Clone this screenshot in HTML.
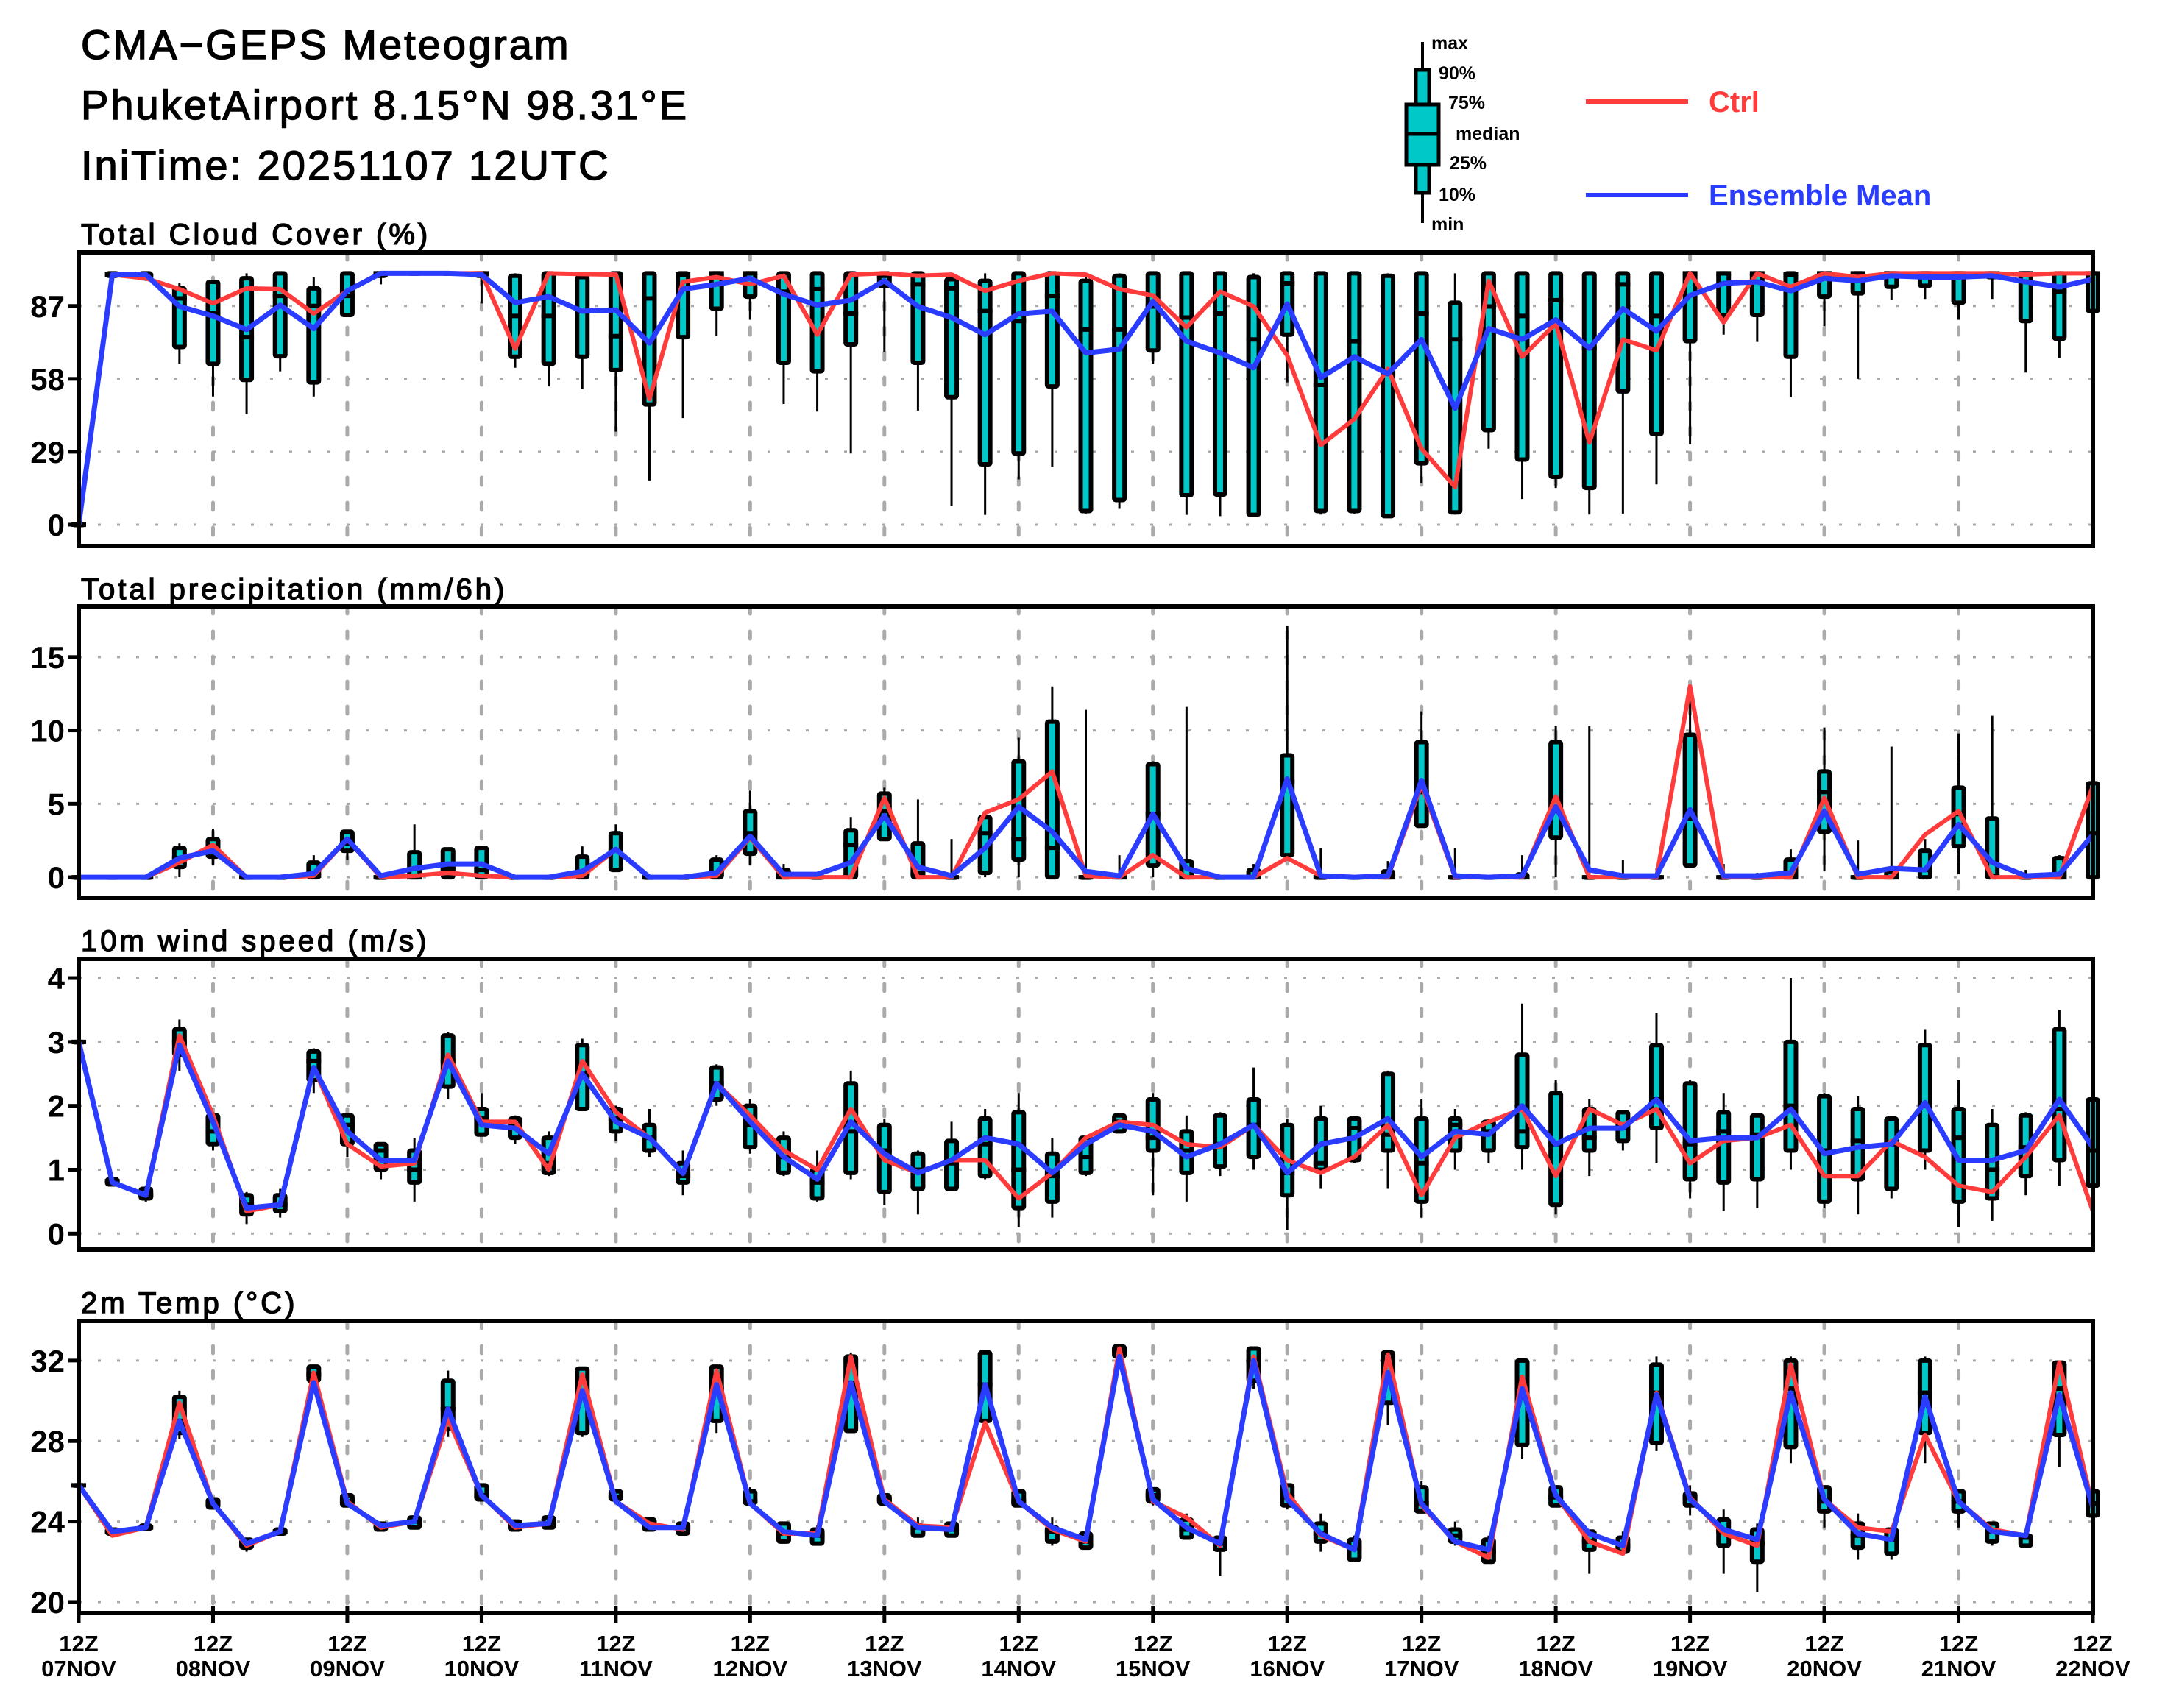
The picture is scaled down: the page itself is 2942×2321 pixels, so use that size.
<!DOCTYPE html>
<html><head><meta charset="utf-8">
<style>
html,body{margin:0;padding:0;background:#fff;}
svg{display:block;}
text{font-family:"Liberation Sans",sans-serif;}
</style></head>
<body>
<svg id="chart" width="2942" height="2321" viewBox="0 0 2942 2321" xmlns="http://www.w3.org/2000/svg">
<rect x="0" y="0" width="2942" height="2321" fill="#fff"/>
<g font-size="56" fill="#000" stroke="#000" stroke-width="1.4" letter-spacing="3">
<text x="110" y="80">CMA−GEPS Meteogram</text>
<text x="110" y="162">PhuketAirport 8.15°N 98.31°E</text>
<text x="110" y="244">IniTime: 20251107 12UTC</text>
</g>
<g>
<g>
<line x1="1933" y1="57" x2="1933" y2="303" stroke="#000" stroke-width="4"/>
<rect x="1924" y="95" width="18" height="167" fill="#00c8c8" stroke="#000" stroke-width="5"/>
<rect x="1911" y="142" width="44" height="82" fill="#00c8c8" stroke="#000" stroke-width="5"/>
<line x1="1911" y1="182" x2="1955" y2="182" stroke="#000" stroke-width="5"/>
<g font-size="25" font-weight="bold" fill="#000">
<text x="1945" y="67">max</text>
<text x="1955" y="108">90%</text>
<text x="1968" y="148">75%</text>
<text x="1978" y="190">median</text>
<text x="1970" y="230">25%</text>
<text x="1955" y="273">10%</text>
<text x="1945" y="313">min</text>
</g>
</g>
<g>
<line x1="2155" y1="138" x2="2294" y2="138" stroke="#ff3b3b" stroke-width="6"/>
<text x="2322" y="152" font-size="40" font-weight="bold" fill="#ff3b3b">Ctrl</text>
</g>
<g>
<line x1="2155" y1="265" x2="2294" y2="265" stroke="#2a3cff" stroke-width="6"/>
<text x="2322" y="279" font-size="40" font-weight="bold" fill="#2a3cff">Ensemble Mean</text>
</g>
</g>
<g id="panels"></g>
</svg>
<script>
// ---------- data ----------
const dayLabels = ["07NOV","08NOV","09NOV","10NOV","11NOV","12NOV","13NOV","14NOV","15NOV","16NOV","17NOV","18NOV","19NOV","20NOV","21NOV","22NOV"];

const cloudTicks = [0,29,58,87];
const cloudCtrl = [0,99.5,98,93.7,88,94,93.7,84,93,100,100,100,100,70,100,99.7,99.5,50,96.6,98.5,95.6,99,75.6,99.5,100,99,99.5,93,97,100,99.5,93.7,91.2,78.5,92.7,86.8,67.3,31.7,42,62,30.2,15,97,66.8,80,32.7,73.7,69.3,100,80.5,100,94.6,100,98.5,100,100,100,100,99.5,100,100];
const cloudMean = [0,99.5,99.5,86.8,83,77.6,87.3,78,93,100,100,100,99.5,88.3,90.7,84.9,85.4,72.2,93.7,95.6,98,91.7,87.3,89.3,97,86.8,82.4,75.6,83.9,84.9,68.3,69.8,88.8,73,68.3,62.4,87.8,58.5,66.8,60,73.7,46.3,78,73.7,81.5,70.2,85.9,77,91.2,96,96.6,93,98,97,99,98.5,98.5,99,96.6,94.6,97.6];
const cloudMin = [0,98,97,64,51,44,61,51,83,95.6,100,100,88,62.4,55,54,37,17.6,42.4,75,81.5,48,45,28.3,68.8,45.4,7.3,3.9,18,23,4.4,6.3,64,3.9,3.4,3.9,56.6,4,4.4,3.4,16.6,4,30.2,10.2,14.6,4,4.4,16,32,75.6,72.7,50.7,79,58,89.3,89.8,81.5,89.8,60.5,66.3,85];
const cloudQ1 = [0,99,98,70.7,64,57.6,67,56.6,83.4,99,100,100,99,66.8,64,66.8,61.5,47.8,74.6,85.9,90.7,64.4,61,71.7,95,64.4,50.7,24,28.3,55,5.4,9.8,69.3,11.7,12,3.9,75.6,5.4,5.4,3.4,24.4,4.9,37.6,25.9,19,14.6,53,36,73,83.4,83.4,66.8,90.7,92,94.6,95,88.3,98.5,81,74,85];
const cloudMed = [0,99.5,99,90,84,74.6,91,87,91,100,100,100,100,83,83,85,75,90,99.5,100,100,92.7,93.7,84,99,95.6,94,85,81,91,77.6,77.6,86.8,82.4,84,73.7,96,55.6,73,60,84,73.7,86.8,83,89.3,70.2,95.6,83,100,100,100,99.5,100,100,100,100,100,100,100,92.7,100];
const cloudQ3 = [0,100,100,94,96.6,98,100,94,100,100,100,100,100,99,100,98.5,100,100,100,100,100,100,100,100,100,100,97.6,97,100,100,97,99,100,100,100,98.5,100,100,100,99,100,88.3,100,100,100,100,100,100,100,100,100,100,100,100,100,100,100,100,100,100,100];
const cloudMax = [0,100,100,96,96.6,100,100,98.5,100,100,100,100,100,100,100,100,100,100,100,100,100,100,100,100,100,100,100,100,100,100,100,100,100,100,100,100,100,100,100,100,100,100,100,100,100,100,100,100,100,100,100,100,100,100,100,100,100,100,100,100,100];

const precTicks = [0,5,10,15];
const precCtrl = [0,0,0,1.0,2.2,0,0,0.1,2.6,0,0.1,0.3,0.1,0,0,0.1,1.9,0,0,0.1,2.7,0,0,0,5.4,0,0,4.4,5.3,7.2,0.1,0,1.5,0,0,0,1.3,0.1,0,0,6.3,0,0,0,5.5,0,0,0,13.0,0,0,0,5.4,0,0,2.9,4.5,0,0,0,6.2];
const precMean = [0,0,0,1.3,1.8,0,0,0.25,2.6,0.1,0.6,0.9,0.9,0,0,0.4,1.9,0,0,0.3,2.8,0.2,0.2,1.0,4.2,0.7,0.1,2.0,4.8,3.1,0.4,0.1,4.3,0.6,0,0,6.7,0.1,0,0.1,6.6,0.1,0,0.1,4.8,0.5,0.1,0.1,4.6,0.1,0.1,0.3,4.5,0.2,0.6,0.5,3.6,1.0,0.1,0.2,2.9];
const precMin = [0,0,0,0,0.8,0,0,0,1.2,0,0,0,0,0,0,0,0.5,0,0,0,0.8,0,0,0,2.6,0,0,0,0,0,0,0,0,0,0,0,1.4,0,0,0,3.5,0,0,0,0,0,0,0,0.8,0,0,0,0.4,0,0,0,0.2,0,0,0,0];
const precQ1 = [0,0,0,0.7,1.4,0,0,0,1.8,0,0,0,0,0,0,0,0.5,0,0,0,1.6,0,0,0,2.6,0,0,0.3,1.2,0,0,0,0.8,0,0,0,1.5,0,0,0,3.5,0,0,0,2.7,0,0,0,0.8,0,0,0,3.1,0,0,0,2.1,0,0,0,0];
const precMed = [0,0,0,1.3,1.8,0,0,0.1,2.3,0,0,0.6,0.5,0,0,0.3,1.8,0,0,0.2,3.0,0,0,2.2,4.5,0.3,0,3.0,2.6,2.0,0,0,4.3,0,0,0,6.5,0,0,0,5.8,0,0,0,4.5,0,0,0,4.0,0,0,0,5.8,0,0,0.5,4.3,0.1,0,0,3.0];
const precQ3 = [0,0,0,2.0,2.6,0,0,1.0,3.1,0,1.7,1.9,2.0,0,0,1.4,3.0,0,0,1.2,4.5,0.5,0,3.2,5.7,2.3,0,4.1,7.9,10.6,0,0.1,7.7,1.1,0,0.5,8.3,0,0,0.4,9.2,0,0,0.2,9.2,0,0,0,9.7,0,0,1.2,7.2,0,0.4,1.8,6.1,4.0,0,1.3,6.4];
const precMax = [0,0,0,2.3,3.3,0,0,1.5,3.1,0,3.6,1.9,2.0,0,0,2.1,3.6,0,0,1.5,5.9,0.9,0,4.1,6.1,5.3,2.6,4.1,9.5,13.0,11.4,1.5,7.9,11.6,0,0.9,17.1,2.0,0,1.1,11.3,2.0,0,1.5,10.3,10.3,1.2,0.6,12.2,0.9,0.3,1.9,10.2,2.5,8.9,2.6,9.8,11.0,0.5,1.5,6.4];

const windTicks = [0,1,2,3,4];
const windCtrl = [3.0,0.8,0.6,3.1,1.85,0.35,0.45,2.6,1.4,1.05,1.1,2.8,1.75,1.75,1.0,2.7,1.9,1.5,0.95,2.35,1.85,1.3,1.0,1.95,1.15,0.95,1.15,1.15,0.55,0.95,1.5,1.75,1.7,1.4,1.35,1.7,1.15,0.95,1.2,1.7,0.6,1.5,1.75,1.95,0.9,1.95,1.7,1.95,1.1,1.45,1.5,1.7,0.9,0.9,1.45,1.2,0.75,0.65,1.2,1.85,0.35];
const windMean = [3.0,0.8,0.6,2.95,1.75,0.4,0.45,2.6,1.6,1.15,1.15,2.7,1.7,1.65,1.25,2.5,1.75,1.5,0.94,2.35,1.75,1.2,0.85,1.75,1.25,0.95,1.15,1.5,1.4,0.95,1.4,1.7,1.6,1.2,1.4,1.7,0.95,1.4,1.5,1.8,1.2,1.6,1.55,2.0,1.4,1.65,1.65,2.1,1.45,1.5,1.5,1.95,1.25,1.35,1.4,2.05,1.15,1.15,1.3,2.1,1.35];
const windMin = [3.0,0.75,0.5,2.55,1.3,0.15,0.25,2.2,1.2,0.85,0.5,2.1,1.55,1.4,0.9,1.95,1.45,1.2,0.6,2.0,1.25,0.9,0.5,0.85,0.45,0.3,0.7,0.85,0.1,0.25,0.9,1.6,0.6,0.5,0.9,1.0,0.05,0.7,1.1,0.7,0.25,1.0,1.1,1.0,0.3,0.9,1.3,1.1,0.55,0.35,0.4,1.0,0.4,0.3,0.55,1.0,0.1,0.2,0.6,0.75,0.3];
const windQ1 = [3.0,0.77,0.55,2.8,1.4,0.3,0.35,2.4,1.4,1.0,0.8,2.3,1.55,1.5,0.95,1.95,1.6,1.3,0.8,2.1,1.35,0.95,0.55,0.95,0.65,0.7,0.7,0.9,0.4,0.5,0.95,1.6,1.3,0.95,1.05,1.2,0.6,1.0,1.15,1.3,0.5,1.3,1.3,1.35,0.45,1.3,1.45,1.65,0.85,0.8,0.85,1.3,0.5,0.85,0.7,1.3,0.5,0.55,0.9,1.15,0.75];
const windMed = [3.0,0.82,0.6,3.0,1.6,0.45,0.45,2.7,1.7,1.3,1.0,2.7,1.8,1.7,1.1,2.5,1.8,1.5,0.9,2.35,1.7,1.2,0.8,1.6,1.3,1.0,1.1,1.4,1.0,0.9,1.2,1.75,1.5,1.3,1.4,1.7,0.95,1.1,1.65,1.55,1.1,1.7,1.6,1.6,1.4,1.5,1.65,2.1,1.4,1.6,1.55,2.0,1.3,1.45,1.4,2.0,1.5,1.0,1.35,1.95,1.3];
const windQ3 = [3.0,0.85,0.7,3.2,1.85,0.6,0.6,2.85,1.85,1.4,1.3,3.1,1.95,1.8,1.5,2.95,1.95,1.7,1.1,2.6,2.0,1.5,1.0,2.35,1.7,1.25,1.45,1.8,1.9,1.25,1.5,1.85,2.1,1.6,1.85,2.1,1.7,1.8,1.8,2.5,1.8,1.8,1.75,2.8,2.2,1.95,1.9,2.95,2.35,1.9,1.85,3.0,2.15,1.95,1.8,2.95,1.95,1.7,1.85,3.2,2.1];
const windMax = [3.0,0.87,0.75,3.35,1.9,0.65,0.7,2.9,1.85,1.4,1.5,3.15,2.2,1.85,1.6,3.05,2.0,1.95,1.3,2.65,2.1,1.6,1.3,2.55,1.8,1.3,1.75,1.95,2.2,1.5,1.5,1.85,2.2,1.85,1.9,2.6,1.8,2.0,1.8,2.55,2.1,1.95,1.8,3.6,2.4,2.1,1.9,3.45,2.4,2.2,1.85,4.0,2.2,2.15,1.8,3.2,2.4,1.95,1.9,3.5,2.1];

const tempTicks = [20,24,28,32];
const tempCtrl = [25.8,23.3,23.7,29.9,24.9,22.8,23.5,31.4,25.0,23.7,24.0,29.1,25.3,23.7,23.9,31.3,25.0,23.9,23.6,31.5,24.9,23.4,23.4,32.2,25.1,23.8,23.7,28.9,25.0,23.6,23.0,32.6,25.0,24.2,22.8,32.2,25.4,23.3,22.6,32.3,24.8,23.0,22.2,31.2,25.3,23.0,22.4,30.4,25.2,23.4,22.8,31.8,25.1,23.7,23.5,28.3,25.0,23.6,23.3,31.9,24.7];
const tempMean = [25.8,23.5,23.7,29.0,24.9,22.9,23.5,30.9,24.9,23.8,24.0,29.6,25.3,23.8,23.9,30.5,25.0,23.7,23.7,30.8,24.9,23.5,23.3,30.9,25.0,23.7,23.6,30.8,25.0,23.7,23.1,32.2,25.1,23.7,22.9,32.0,25.1,23.4,22.6,31.4,24.9,23.0,22.6,30.6,25.3,23.4,22.8,30.3,25.1,23.6,23.1,30.4,25.1,23.4,23.1,30.2,25.0,23.5,23.3,30.3,24.7];
const tempMin = [25.8,23.3,23.6,28.1,24.6,22.5,23.4,30.9,24.8,23.5,23.6,28.2,25.0,23.6,23.7,28.2,25.0,23.5,23.3,28.4,24.8,22.9,22.9,28.4,24.8,23.2,23.2,28.8,24.7,22.8,22.6,32.2,24.8,23.1,21.3,30.6,24.6,22.5,22.1,28.8,24.4,22.8,22.0,27.1,24.8,21.4,22.3,27.5,24.3,21.4,20.5,26.9,23.7,22.1,22.1,26.9,23.7,22.8,22.7,26.7,24.0];
const tempQ1 = [25.8,23.4,23.65,28.4,24.7,22.7,23.4,31.0,24.8,23.6,23.7,28.6,25.1,23.6,23.7,28.4,25.1,23.6,23.4,29.0,24.9,23.0,22.9,28.5,24.9,23.3,23.3,29.0,24.8,23.0,22.7,32.2,25.0,23.2,22.6,31.0,24.8,23.0,22.1,29.9,24.5,23.0,22.0,27.8,24.8,22.6,22.5,27.9,24.8,22.8,22.0,27.7,24.5,22.7,22.4,28.4,24.5,23.0,22.8,28.3,24.3];
const tempMed = [25.8,23.5,23.7,29.0,24.9,22.9,23.5,31.3,25.0,23.8,24.0,29.6,25.3,23.8,23.9,30.5,25.2,23.8,23.7,30.6,25.0,23.4,23.3,30.9,25.1,23.7,23.6,30.8,25.0,23.5,23.0,32.5,25.3,23.6,22.9,31.9,25.2,23.4,22.7,31.4,24.9,23.3,22.5,30.6,25.2,23.0,22.8,30.4,25.2,23.5,22.9,30.6,25.0,23.3,23.1,30.4,25.0,23.5,23.2,30.6,24.9];
const tempQ3 = [25.8,23.6,23.8,30.2,25.1,23.1,23.6,31.7,25.3,23.9,24.2,31.0,25.8,24.0,24.2,31.6,25.5,24.1,23.9,31.7,25.5,23.9,23.6,32.2,25.3,23.8,23.9,32.4,25.5,23.7,23.4,32.7,25.6,24.1,23.2,32.6,25.8,23.9,23.1,32.4,25.7,23.6,23.1,32.0,25.7,23.5,23.2,31.8,25.4,24.1,23.6,32.0,25.7,23.9,23.6,32.0,25.5,23.9,23.3,31.9,25.5];
const tempMax = [25.8,23.6,23.8,30.5,25.1,23.1,23.6,31.8,25.3,23.9,24.2,31.5,25.8,24.1,24.3,31.7,25.5,24.1,23.9,31.8,25.7,24.0,23.8,32.4,25.3,24.2,23.9,32.5,25.5,24.2,23.4,32.8,25.6,24.4,23.3,32.6,25.8,24.4,23.3,32.4,26.0,24.0,23.3,32.0,25.8,23.6,23.5,32.2,25.8,24.6,23.9,32.2,25.7,24.4,23.7,32.2,25.5,23.9,23.6,31.9,25.5];

// ---------- layout ----------
const NS = "http://www.w3.org/2000/svg";
const X0 = 107, X1 = 2844, NSTEP = 60;
function xAt(i){ return X0 + (X1 - X0) * i / NSTEP; }
function el(tag, attrs, parent){
  const e = document.createElementNS(NS, tag);
  for (const k in attrs) e.setAttribute(k, attrs[k]);
  parent.appendChild(e);
  return e;
}
const panelsG = document.getElementById('panels');

const panels = [
  {name:'cloud-cover', title:'Total Cloud Cover (%)', top:343, bottom:742, vmin:-8.5, vmax:108.3, ticks:cloudTicks,
   ctrl:cloudCtrl, mean:cloudMean, mn:cloudMin, q1:cloudQ1, md:cloudMed, q3:cloudQ3, mx:cloudMax, titleY:332},
  {name:'precipitation', title:'Total precipitation (mm/6h)', top:824, bottom:1220, vmin:-1.4, vmax:18.45, ticks:precTicks,
   ctrl:precCtrl, mean:precMean, mn:precMin, q1:precQ1, md:precMed, q3:precQ3, mx:precMax, titleY:814},
  {name:'wind-speed', title:'10m wind speed (m/s)', top:1303, bottom:1698, vmin:-0.25, vmax:4.3, ticks:windTicks,
   ctrl:windCtrl, mean:windMean, mn:windMin, q1:windQ1, md:windMed, q3:windQ3, mx:windMax, titleY:1292},
  {name:'temperature', title:'2m Temp (°C)', top:1795, bottom:2192, vmin:19.45, vmax:33.97, ticks:tempTicks,
   ctrl:tempCtrl, mean:tempMean, mn:tempMin, q1:tempQ1, md:tempMed, q3:tempQ3, mx:tempMax, titleY:1784}
];

panels.forEach((p, pi) => {
  const yAt = v => p.bottom - (v - p.vmin) / (p.vmax - p.vmin) * (p.bottom - p.top);
  const g = el('g', {}, panelsG);
  
  

  const t = el('text', {x:110, y:p.titleY, 'font-size':40, fill:'#000', stroke:'#000', 'stroke-width':1.4, 'letter-spacing':4}, g);
  
  
  t.textContent = p.title;

  // grid
  const grid = el('g', {}, g);
  
  
  p.ticks.forEach(v => {
    el('line', {x1:X0, x2:X1, y1:yAt(v), y2:yAt(v), stroke:'#aaa', 'stroke-width':3, 'stroke-dasharray':'4 22'}, grid);
  });
  for (let d = 1; d < dayLabels.length - 1; d++) {
    const x = xAt(d * 4);
    el('line', {x1:x, x2:x, y1:p.top, y2:p.bottom, stroke:'#aaa', 'stroke-width':5, 'stroke-dasharray':'10 24', 'stroke-linecap':'round'}, grid);
  }

  // boxes
  const boxes = el('g', {}, g);
  
  
  for (let i = 0; i < p.ctrl.length; i++) {
    const x = xAt(i);
    const b = el('g', {}, boxes);
    
    
    el('line', {x1:x, x2:x, y1:yAt(p.mx[i]), y2:yAt(p.mn[i]), stroke:'#000', 'stroke-width':3}, b);
    const yq3 = yAt(p.q3[i]), yq1 = yAt(p.q1[i]);
    el('rect', {x:x-7, y:yq3, width:14, height:Math.max(0.5, yq1-yq3), fill:'#00c8c8', stroke:'#000', 'stroke-width':6, rx:2}, b);
    el('line', {x1:x-10, x2:x+10, y1:yAt(p.md[i]), y2:yAt(p.md[i]), stroke:'#000', 'stroke-width':6}, b);
  }

  // lines
  const mkPath = arr => arr.map((v,i) => (i?'L':'M') + xAt(i).toFixed(1) + ' ' + yAt(v).toFixed(1)).join(' ');
  const ctrlLine = el('path', {d:mkPath(p.ctrl), fill:'none', stroke:'#ff3b3b', 'stroke-width':6, 'stroke-linejoin':'round'}, g);
  
  
  const meanLine = el('path', {d:mkPath(p.mean), fill:'none', stroke:'#2a3cff', 'stroke-width':7, 'stroke-linejoin':'round'}, g);
  
  

  // frame
  const frame = el('rect', {x:X0, y:p.top, width:X1-X0, height:p.bottom-p.top, fill:'none', stroke:'#000', 'stroke-width':6}, g);
  
  

  // y axis
  const ya = el('g', {}, g);
  
  
  p.ticks.forEach(v => {
    const y = yAt(v);
    el('line', {x1:X0-14, x2:X0, y1:y, y2:y, stroke:'#000', 'stroke-width':5}, ya);
    const tl = el('text', {x:88, y:y+15, 'text-anchor':'end', 'font-size':42, 'font-weight':'bold', fill:'#000'}, ya);
    
    
    tl.textContent = String(v);
  });

  if (pi === panels.length - 1) {
    const xa = el('g', {}, g);
    
    
    dayLabels.forEach((lab, d) => {
      const x = xAt(d * 4);
      el('line', {x1:x, x2:x, y1:p.bottom-10, y2:p.bottom+13, stroke:'#000', 'stroke-width':5}, xa);
      const t1 = el('text', {x:x, y:2244, 'text-anchor':'middle', 'font-size':31, 'font-weight':'bold', fill:'#000'}, xa);
      
      
      t1.textContent = '12Z';
      const t2 = el('text', {x:x, y:2278, 'text-anchor':'middle', 'font-size':31, 'font-weight':'bold', fill:'#000'}, xa);
      
      
      t2.textContent = lab;
    });
  }
});
</script>
</body></html>
